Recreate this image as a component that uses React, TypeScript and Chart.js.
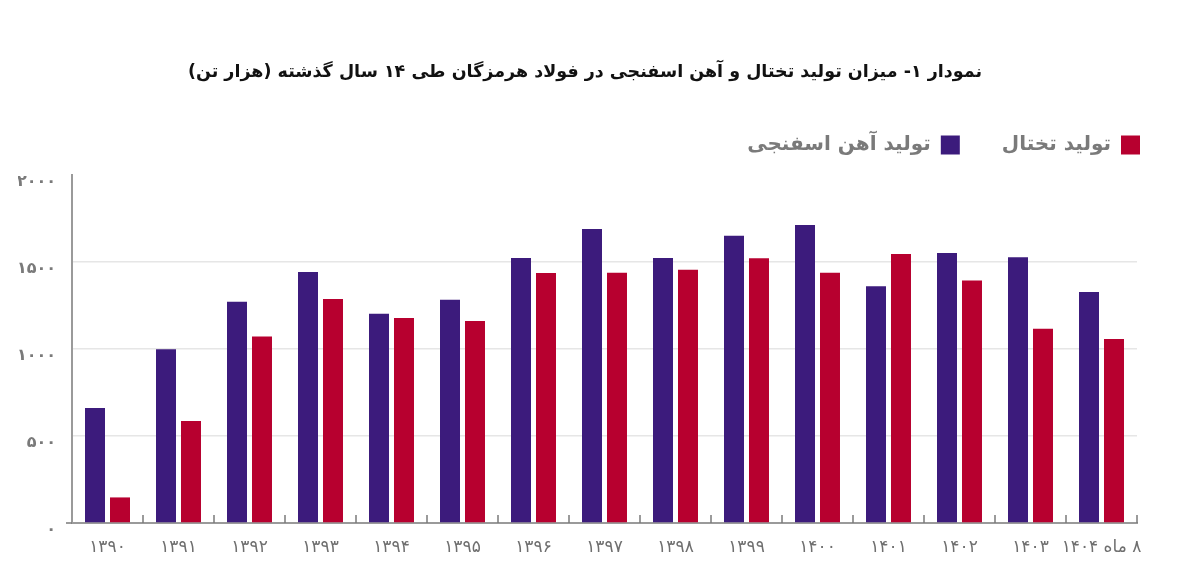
import React, { useEffect, useRef } from "react";
import { Chart, registerables } from "chart.js";

Chart.register(...registerables);

const categories = [
  "۱۳۹۰", "۱۳۹۱", "۱۳۹۲", "۱۳۹۳", "۱۳۹۴", "۱۳۹۵", "۱۳۹۶", "۱۳۹۷",
  "۱۳۹۸", "۱۳۹۹", "۱۴۰۰", "۱۴۰۱", "۱۴۰۲", "۱۴۰۳", "۸ ماه ۱۴۰۴",
];
const spongeIron = [661, 998, 1272, 1442, 1203, 1283, 1523, 1690, 1523, 1651, 1713, 1360, 1552, 1527, 1328];
const slab = [147, 586, 1072, 1287, 1178, 1161, 1437, 1438, 1456, 1521, 1438, 1546, 1393, 1117, 1058];
const yTickLabels: Record<number, string> = { 0: "۰", 500: "۵۰۰", 1000: "۱۰۰۰", 1500: "۱۵۰۰", 2000: "۲۰۰۰" };
const titleText = "نمودار ۱- میزان تولید تختال و آهن اسفنجی در فولاد هرمزگان طی ۱۴ سال گذشته (هزار تن)";
const seriesNames = ["تولید آهن اسفنجی", "تولید تختال"];

const FONT = "'DejaVu Sans', 'Noto Sans', sans-serif";

const categoryTicks = {
  id: "categoryTicks",
  afterDatasetsDraw(chart: any) {
    const xs = chart.scales.x;
    const ctx = chart.ctx;
    const n = chart.data.labels.length;
    ctx.save();
    ctx.strokeStyle = "#7a7a7a";
    ctx.lineWidth = 1.5;
    for (let i = 1; i <= n; i++) {
      const x = i < n ? (xs.getPixelForTick(i - 1) + xs.getPixelForTick(i)) / 2 : xs.right;
      ctx.beginPath();
      ctx.moveTo(x, xs.top);
      ctx.lineTo(x, xs.top - 8);
      ctx.stroke();
    }
    ctx.beginPath();
    ctx.moveTo(xs.left - 6, xs.top);
    ctx.lineTo(xs.left, xs.top);
    ctx.stroke();
    ctx.restore();
  },
};

export default function App() {
  const ref = useRef<HTMLCanvasElement | null>(null);
  useEffect(() => {
    if (!ref.current) return;
    const chart = new Chart(ref.current, {
      type: "bar",
      data: {
        labels: categories.map((c, i) => (i === categories.length - 1 ? "\u200F" + c : c)),
        datasets: [
          {
            label: seriesNames[0],
            data: spongeIron,
            backgroundColor: "#3c1b7c",
            categoryPercentage: 0.704,
            barPercentage: 0.8,
          },
          {
            label: seriesNames[1],
            data: slab,
            backgroundColor: "#b7002f",
            categoryPercentage: 0.704,
            barPercentage: 0.8,
          },
        ],
      },
      options: {
        animation: false,
        responsive: true,
        maintainAspectRatio: false,
        layout: { padding: { top: 0, left: 18, right: 48, bottom: 0 } },
        plugins: {
          tooltip: { enabled: false },
          title: {
            display: true,
            text: titleText,
            color: "#111",
            font: { family: FONT, size: 17.5, weight: "bold" },
            padding: { top: 62, bottom: 40 },
          },
          legend: {
            display: true,
            rtl: true,
            reverse: true,
            align: "start",
            textDirection: "rtl",
            labels: {
              color: "#7a7a7a",
              font: { family: FONT, size: 20, weight: "bold" },
              boxWidth: 19,
              boxHeight: 19,
              padding: 12,
              generateLabels(chart: any) {
                const items = Chart.defaults.plugins.legend.labels.generateLabels(chart);
                return items.map((it: any) => ({
                  ...it,
                  text: it.text + "\u2003\u2002",
                  lineWidth: 0,
                }));
              },
            },
          },
        },
        scales: {
          x: {
            grid: { display: false, drawTicks: false },
            border: { display: true, color: "#9a9a9a", width: 2 },
            ticks: {
              color: "#6f6f6f",
              font: { family: FONT, size: 17 },
              padding: 14,
              maxRotation: 0,
              autoSkip: false,
            },
            afterFit(scale: any) {
              scale.height = 64;
            },
          },
          xTop: {
            type: "category",
            position: "top",
            display: true,
            grid: { display: false, drawTicks: false },
            border: { display: false },
            ticks: { display: false },
            afterFit(scale: any) {
              scale.height = 10;
            },
          },
          y: {
            min: 0,
            max: 2000,
            grid: {
              drawTicks: false,
              color: (c: any) => (c.tick && (c.tick.value === 2000 || c.tick.value === 0) ? "rgba(0,0,0,0)" : "#e6e6e6"),
              lineWidth: 1.5,
            },
            border: { display: true, color: "#9a9a9a", width: 2 },
            ticks: {
              stepSize: 500,
              color: "#7a7a7a",
              font: { family: FONT, size: 16, weight: "bold" },
              padding: 16,
              labelOffset: 7,
              callback: (v: any) => yTickLabels[Number(v)] ?? String(v),
            },
            afterFit(scale: any) {
              scale.width = 54;
            },
          },
          yRight: {
            type: "linear",
            position: "right",
            display: true,
            grid: { display: false, drawTicks: false },
            border: { display: false },
            ticks: { display: false },
            afterFit(scale: any) {
              scale.width = 15;
            },
          },
        },
      },
      plugins: [categoryTicks],
    });
    return () => chart.destroy();
  }, []);
  return (
    <div style={{ position: "absolute", left: 0, top: 0, width: 1200, height: 587, background: "#fff" }}>
      <canvas ref={ref} style={{ direction: "rtl" }} />
    </div>
  );
}
